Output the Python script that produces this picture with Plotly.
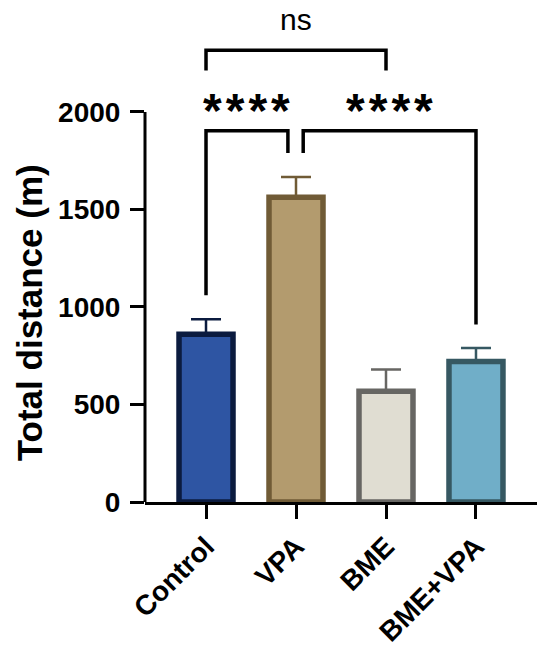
import plotly.graph_objects as go

# group means and SEM
groups = ["Control", "VPA", "BME", "BME+VPA"]
means = [860, 1562, 568, 721]
sem = [77, 105, 111, 69]
fill_colors = ["#2E55A3", "#B39B6E", "#E0DDD2", "#70AEC8"]
edge_colors = ["#0B1B3F", "#705B36", "#676663", "#365862"]

y_ticks = [0, 500, 1000, 1500, 2000]

FONT = "Arial, Liberation Sans, Helvetica, sans-serif"

fig = go.Figure()
fig.add_trace(go.Bar(
    x=groups, y=means, width=0.6,
    marker=dict(color=fill_colors, line=dict(color=edge_colors, width=5.5)),
    showlegend=False,
))
# upper error bars only, one trace per group so each gets its own colour
for i, g in enumerate(groups):
    fig.add_trace(go.Scatter(
        x=[g], y=[means[i]], mode="markers",
        marker=dict(size=0.1, color="rgba(0,0,0,0)"),
        error_y=dict(type="data", array=[sem[i]], arrayminus=[0], symmetric=False,
                     color=edge_colors[i], thickness=2.5, width=15),
        showlegend=False, hoverinfo="skip",
    ))

# significance brackets (x in category index units)
def bracket(x0, x1, y_top, y_left, y_right):
    fig.add_shape(type="path",
                  path=f"M {x0} {y_left} L {x0} {y_top} L {x1} {y_top} L {x1} {y_right}",
                  xref="x", yref="y", line=dict(color="black", width=3.5))

bracket(0, 0.91, 1903, 1060, 1790)
bracket(1.08, 3, 1903, 1790, 910)
bracket(0, 2, 2316, 2213, 2213)

star = "\u200a".join("****")
fig.add_annotation(x=0.455, y=2005, text=f"<b>{star}</b>", showarrow=False,
                   font=dict(family=FONT, size=48, color="black"), yanchor="middle")
fig.add_annotation(x=2.04, y=2005, text=f"<b>{star}</b>", showarrow=False,
                   font=dict(family=FONT, size=48, color="black"), yanchor="middle")
fig.add_annotation(x=1, y=2476, text="ns", showarrow=False,
                   font=dict(family=FONT, size=30, color="black"), yanchor="middle")

# y title as annotation so it centres on the 0-2000 axis like Prism
fig.add_annotation(xref="paper", x=-0.296, y=973, text="<b>Total distance (m)</b>",
                   textangle=-90, showarrow=False, xanchor="center", yanchor="middle",
                   font=dict(family=FONT, size=35, color="black"))

# y axis line only from 0 to 2000
fig.add_shape(type="line", xref="paper", yref="y", x0=0, x1=0, y0=0, y1=2000,
              line=dict(color="black", width=3))

fig.update_layout(
    width=550, height=656,
    margin=dict(l=145, r=13, t=8, b=154),
    plot_bgcolor="white", paper_bgcolor="white",
    font=dict(family=FONT, color="black"),
    bargap=0.4,
)
fig.update_xaxes(
    type="category", range=[-0.678, 3.678], automargin=False,
    showline=True, linecolor="black", linewidth=3,
    ticks="outside", ticklen=14, tickwidth=3, tickcolor="black",
    tickangle=-45, tickfont=dict(family=FONT, size=28, color="black"),
    tickvals=groups, ticktext=[f"<b>{g}</b>" for g in groups],
    showgrid=False, zeroline=False,
)
fig.update_yaxes(
    range=[0, 2533], showline=False, automargin=False,
    tickvals=y_ticks, ticktext=[f"<b>{v}</b>" for v in y_ticks],
    ticks="outside", ticklen=14, tickwidth=3, tickcolor="black",
    tickfont=dict(family=FONT, size=28, color="black"), ticklabelstandoff=4,
    showgrid=False, zeroline=False,
)

# drop the default 8px body margin so the figure fills the window
fig.write_html("out.html", config={"displayModeBar": False},
               post_script="document.body.style.margin='0';")
